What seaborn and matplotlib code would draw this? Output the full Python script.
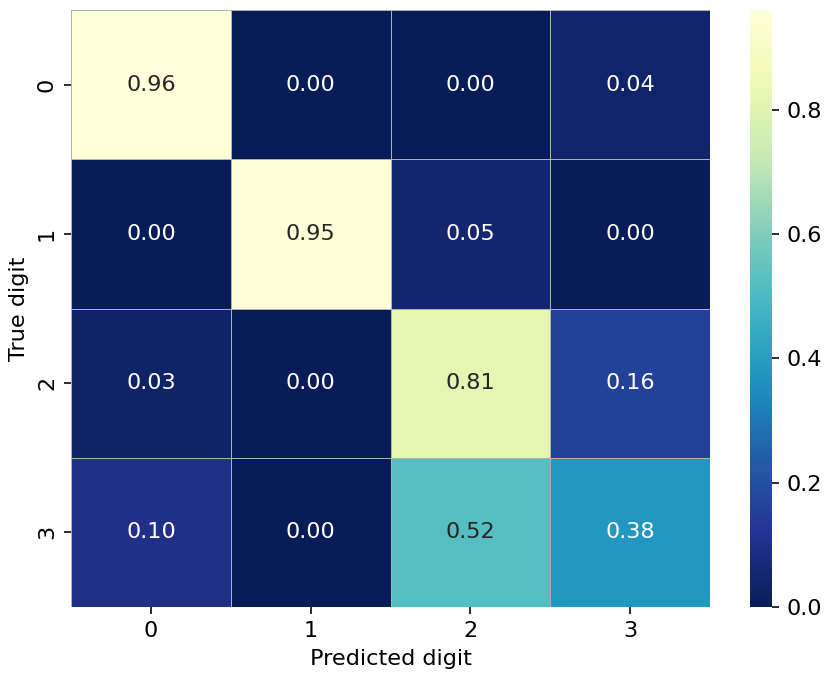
import numpy as np
import seaborn as sns
import matplotlib.pyplot as plt

digits = ['0', '1', '2', '3']
row_0 = [0.96, 0.00, 0.00, 0.04]
row_1 = [0.00, 0.95, 0.05, 0.00]
row_2 = [0.03, 0.00, 0.81, 0.16]
row_3 = [0.10, 0.00, 0.52, 0.38]

cm = np.array([row_0, row_1, row_2, row_3])

plt.rcParams['font.size'] = 11.2

fig = plt.figure(figsize=(831 / 144, 681 / 144), dpi=144)
ax = fig.add_axes([71 / 831, 1 - 607 / 681, 639 / 831, 597 / 681])
cax = fig.add_axes([750 / 831, 1 - 607 / 681, 22 / 831, 597 / 681])

sns.heatmap(cm, annot=True, fmt='.2f', cmap='YlGnBu_r', linewidths=0.5,
            linecolor='#b0b0b0', xticklabels=digits, yticklabels=digits,
            ax=ax, cbar_ax=cax)
ax.set_xlabel('Predicted digit')
ax.set_ylabel('True digit')

fig.savefig('out.png', dpi=144)
